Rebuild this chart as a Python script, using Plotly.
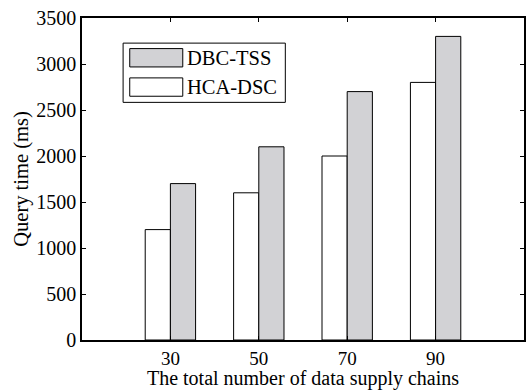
import plotly.graph_objects as go

chains = [30, 50, 70, 90]
hca_dsc = [1200, 1600, 2000, 2800]
dbc_tss = [1700, 2100, 2700, 3300]
y_ticks = [0, 500, 1000, 1500, 2000, 2500, 3000, 3500]

FONT = "Liberation Serif"
GRAY = "#d2d2d5"

fig = go.Figure()
fig.add_trace(go.Bar(x=chains, y=hca_dsc, name="HCA-DSC", marker=dict(color="white", line=dict(color="black", width=1)), showlegend=False))
fig.add_trace(go.Bar(x=chains, y=dbc_tss, name="DBC-TSS", marker=dict(color=GRAY, line=dict(color="black", width=1)), showlegend=False))

# custom legend box (paper coordinates)
shapes = [
    dict(type="rect", xref="paper", yref="paper", x0=0.093, x1=0.460, y0=0.738, y1=0.922,
         line=dict(color="black", width=1), fillcolor="white"),
    dict(type="rect", xref="paper", yref="paper", x0=0.108, x1=0.228, y0=0.848, y1=0.905,
         line=dict(color="black", width=1), fillcolor=GRAY),
    dict(type="rect", xref="paper", yref="paper", x0=0.108, x1=0.228, y0=0.757, y1=0.814,
         line=dict(color="black", width=1), fillcolor="white"),
]
annotations = [
    dict(xref="paper", yref="paper", x=0.232, y=0.877, text="DBC-TSS", showarrow=False,
         xanchor="left", yanchor="middle", font=dict(family=FONT, size=20.5, color="black")),
    dict(xref="paper", yref="paper", x=0.232, y=0.786, text="HCA-DSC", showarrow=False,
         xanchor="left", yanchor="middle", font=dict(family=FONT, size=20.5, color="black")),
]

fig.update_layout(
    width=527, height=390,
    margin=dict(l=82, r=1, t=18, b=50),
    paper_bgcolor="white", plot_bgcolor="white",
    barmode="group", bargap=0.43, bargroupgap=0,
    font=dict(family=FONT, size=20, color="black"),
    shapes=shapes, annotations=annotations,
    xaxis=dict(range=[10, 110], tickvals=chains, ticktext=[str(c) for c in chains],
               ticks="inside", ticklen=4, tickcolor="black", showline=True, linecolor="black",
               linewidth=1.5, mirror="allticks", showgrid=False, zeroline=False,
               tickfont=dict(size=19),
               title=dict(text="The total number of data supply chains", font=dict(size=20), standoff=0)),
    yaxis=dict(range=[0, 3500], tickvals=y_ticks, ticks="inside", ticklen=4, tickcolor="black",
               showline=True, linecolor="black", linewidth=1.5, mirror="allticks", showgrid=False,
               zeroline=False, tickfont=dict(size=20),
               title=dict(text="Query time (ms)", font=dict(size=20.5), standoff=2)),
)

fig.write_html("out.html")
